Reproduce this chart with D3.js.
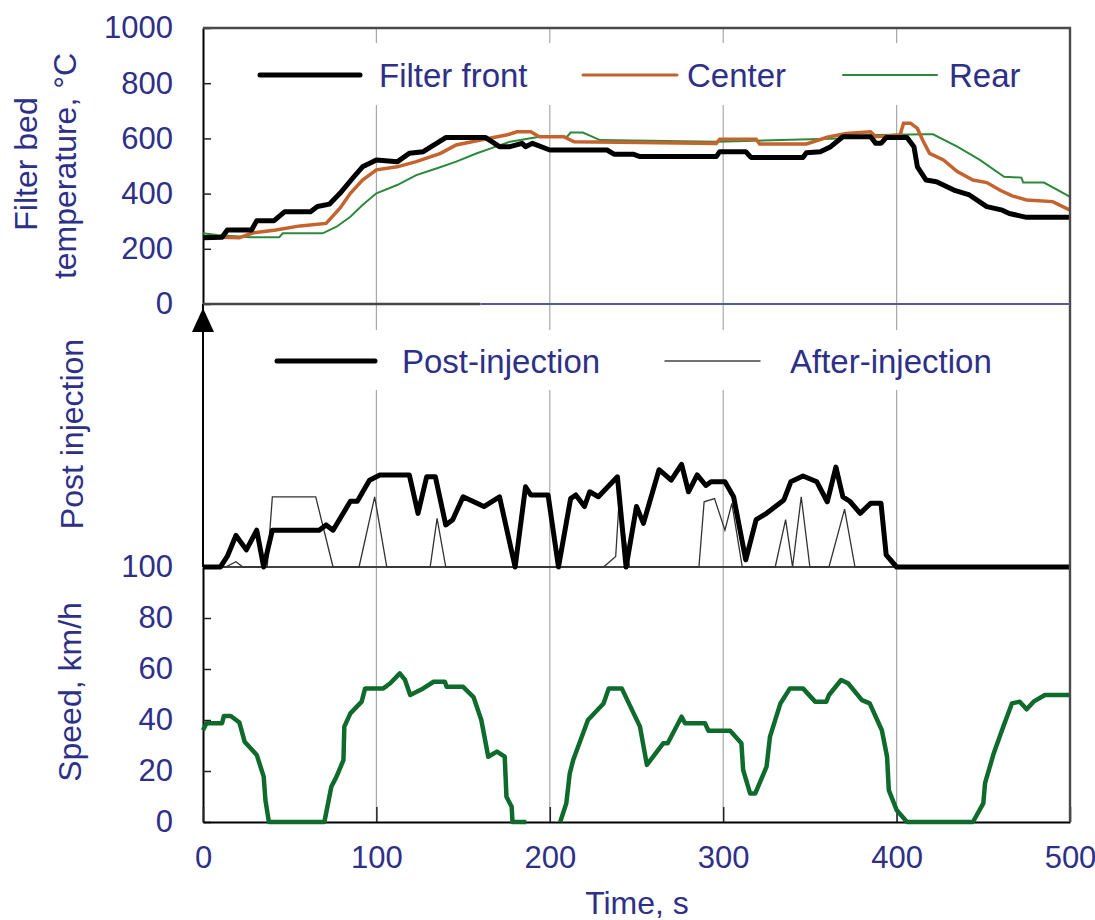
<!DOCTYPE html>
<html>
<head>
<meta charset="utf-8">
<script src="https://cdn.jsdelivr.net/npm/d3@7"></script>
<style>
  body { margin: 0; background: #fff; }
  text { font-family: "Liberation Sans", Arial, sans-serif; fill: #2e3087; }
</style>
</head>
<body>
<div class="vis-holder"></div>
<script>
// tick labels
var timeTicks = [0, 100, 200, 300, 400, 500];
var tempTicks = [0, 200, 400, 600, 800, 1000];
var speedTicks = [0, 20, 40, 60, 80, 100];

// filter bed temperature, front / center / rear  [time s, temp C]
var frontTemp = [[0,240],[11,242],[14,268],[28,268],[31,302],[41,302],[47,334],[62,334],[66,353],[73,362],[79,401],[87,461],[92,497],[100,522],[112,515],[119,546],[127,552],[140,603],[163,603],[171,570],[177,570],[184,582],[186,570],[190,582],[200,558],[233,558],[237,543],[248,543],[252,534],[296,534],[298,552],[313,552],[316,531],[346,531],[348,548],[356,552],[362,570],[369,606],[385,606],[388,582],[391,582],[394,603],[406,603],[410,570],[412,497],[417,449],[423,443],[433,413],[442,395],[452,353],[461,340],[465,328],[475,314],[500,314]];
var centerTemp = [[0,244],[21,240],[29,258],[42,268],[56,283],[71,292],[79,347],[85,401],[92,449],[100,486],[112,497],[123,516],[137,546],[146,576],[160,594],[175,612],[181,624],[189,624],[194,606],[208,606],[214,588],[252,585],[296,582],[298,597],[319,597],[321,580],[348,580],[360,604],[371,618],[385,624],[388,606],[402,612],[404,655],[408,655],[412,636],[415,594],[419,546],[427,522],[435,480],[444,449],[452,440],[460,411],[467,391],[475,377],[490,371],[500,340]];
var rearTemp = [[0,256],[8,250],[27,242],[44,242],[46,256],[69,256],[77,280],[85,316],[92,359],[100,401],[112,431],[123,467],[135,492],[146,516],[158,546],[166,564],[177,588],[194,606],[210,606],[212,621],[219,621],[229,594],[296,588],[367,600],[387,612],[417,615],[421,615],[435,570],[448,522],[462,461],[472,458],[473,440],[485,440],[498,395],[500,388]];

// injection (relative units, baseline 100)
var postInj = [[0,100],[10,100],[14,104],[19,112],[25,106.5],[31,114],[35,100],[40,114],[67,114],[71,116],[75,114],[85,125],[89,125],[96,133],[102,135],[119,135],[124,120.4],[129,134.3],[134,134.3],[140,116],[144,118],[150,126.7],[162,123],[171,126.7],[180,100],[186,130.5],[189,127.4],[199,127.4],[205,100],[212,126],[215,127.4],[220,123],[223,128.6],[228,126.7],[239,134.3],[244,100],[250,123],[254,116.6],[263,137],[270,133],[276,139],[280,128.6],[285,135],[290,131],[293,132.4],[301,132.4],[306,126.7],[313,102.7],[319,118],[325,120.4],[335,125.5],[339,132.4],[346,134.6],[354,132.4],[360,124.8],[365,138],[369,126.7],[373,125],[379,120.4],[385,124.2],[391,124.2],[394,104.6],[400,100],[500,100]];
var afterInj = [[0,100],[13,100],[19,102],[23,100],[37,100],[40,126.7],[65,126.7],[75,100],[90,100],[99,126.7],[106,100],[131,100],[135,118.5],[140,100],[231,100],[238,104],[240,125.5],[246,100],[286,100],[289,124.8],[295,126],[301,114],[305,124.2],[311,100],[330,100],[336,118],[340,100],[345,126.7],[350,100],[361,100],[370,122],[376,100],[500,100]];

// vehicle speed [time s, km/h], null = no trace
var speed = [[0,36],[2,38.7],[11,38.7],[12,41.6],[16,41.6],[21,39],[24,31.5],[31,26.3],[35,17.8],[36,8.6],[38,0],[70,0],[74,13.8],[77,17.8],[81,24.3],[81.5,37.4],[85,42.6],[91.5,47.2],[93.5,52.4],[104,52.4],[108,54.4],[113.5,58.3],[116.5,55.7],[119.5,49.8],[127,52.4],[133,55],[139.5,55],[140.5,53],[150,53],[156,49],[160.5,40],[164.5,25.6],[169.5,27.6],[174,25.6],[175,9.9],[178,6],[178.5,0],[186.5,0],[196,null],[206,0],[209.5,7.3],[211.5,19],[213.5,24.3],[222,40],[231,46.5],[234,52.4],[241.5,52.4],[252,37.4],[256,22.4],[265.5,30.9],[268,30.9],[276,41.3],[278,38.7],[289.5,38.7],[291.5,35.8],[304,35.8],[310.5,30.9],[311.5,20.4],[315.5,11.2],[318.5,11.2],[325,21.7],[327,33.5],[333,46.5],[338.5,52.4],[346,52.4],[353,47.2],[359.5,47.2],[361,49.8],[368,55.7],[372,54.4],[380,47.8],[384.5,46.5],[391.5,36],[394.5,25.6],[395.5,12.5],[400,4.7],[406,0],[444,0],[450,7.3],[451,15.2],[456,26.9],[461.5,37.4],[466.5,46.5],[471,47.2],[475,44.2],[479,47.2],[485.5,49.8],[500,49.8]];

var width = 1095;
var height = 920;
var textColor = "#2e3087";

var svg = d3.select(".vis-holder")
      .append("svg")
      .attr("width", width)
      .attr("height", height);

var xScale = d3.scaleLinear().domain([0, 500]).range([203, 1070]);
var yTemp = d3.scaleLinear().domain([0, 1000]).range([304, 28]);
var yPost = d3.scaleLinear().domain([100, 200]).range([567, 304]);
var ySpeed = d3.scaleLinear().domain([0, 100]).range([822, 567]);

var plotLeft = xScale(0), plotRight = xScale(500);
var plotTop = yTemp(1000), plotBottom = ySpeed(0);

// vertical grid
svg.append("g").selectAll("line")
    .data(timeTicks.slice(1, 5))
    .enter().append("line")
    .attr("x1", function(d){ return xScale(d); })
    .attr("x2", function(d){ return xScale(d); })
    .attr("y1", plotTop)
    .attr("y2", plotBottom)
    .attr("stroke", "#a8a8a8")
    .attr("stroke-width", 1.2);

// legend backgrounds cut the grid
svg.append("rect").attr("x", 230).attr("y", 43).attr("width", 820).attr("height", 62).attr("fill", "#fff");
svg.append("rect").attr("x", 230).attr("y", 330).attr("width", 820).attr("height", 60).attr("fill", "#fff");

// baseline of the injection panel
svg.append("path")
    .attr("d", "M" + plotLeft + "," + yPost(100) + "H" + plotRight)
    .attr("fill", "none").attr("stroke", "#444").attr("stroke-width", 2.2);

function styleAxis(g) {
  g.select(".domain").attr("stroke", "#000").attr("stroke-width", 2);
  g.selectAll(".tick line").attr("stroke", "#222").attr("stroke-width", 1.5);
  g.selectAll(".tick text")
    .style("font-family", '"Liberation Sans", Arial, sans-serif')
    .style("font-size", "31px")
    .attr("fill", textColor);
}

var tempAxis = d3.axisLeft(yTemp).tickValues(tempTicks).tickFormat(d3.format("d"))
      .tickSizeInner(-8).tickSizeOuter(0).tickPadding(30);
svg.append("g").attr("class", "y axis")
    .attr("transform", "translate(" + plotLeft + ",0)")
    .call(tempAxis).call(styleAxis);

var speedAxis = d3.axisLeft(ySpeed).tickValues(speedTicks).tickFormat(d3.format("d"))
      .tickSizeInner(-8).tickSizeOuter(0).tickPadding(30);
svg.append("g").attr("class", "y axis")
    .attr("transform", "translate(" + plotLeft + ",0)")
    .call(speedAxis).call(styleAxis);

var xAxis = d3.axisBottom(xScale).tickValues(timeTicks).tickFormat(d3.format("d"))
      .tickSizeInner(-15).tickSizeOuter(0).tickPadding(24);
svg.append("g").attr("class", "x axis")
    .attr("transform", "translate(0," + plotBottom + ")")
    .call(xAxis).call(styleAxis);

// middle axis with arrow
svg.append("line").attr("x1", plotLeft).attr("x2", plotLeft).attr("y1", yPost(100)).attr("y2", yPost(200))
    .attr("stroke", "#000").attr("stroke-width", 2);
svg.append("path")
    .attr("d", "M" + plotLeft + "," + (yPost(200) + 4) + "L" + (plotLeft - 11) + "," + (yPost(200) + 28) + "L" + (plotLeft + 11) + "," + (yPost(200) + 28) + "Z")
    .attr("fill", "#000");

var tempLine = d3.line()
      .x(function(d){ return xScale(d[0]); })
      .y(function(d){ return yTemp(d[1]); });

var postLine = d3.line()
      .x(function(d){ return xScale(d[0]); })
      .y(function(d){ return yPost(d[1]); });

var speedLine = d3.line()
      .defined(function(d){ return d[1] !== null; })
      .x(function(d){ return xScale(d[0]); })
      .y(function(d){ return ySpeed(d[1]); });

svg.append("path").attr("d", tempLine(rearTemp))
    .attr("fill", "none").attr("stroke", "#2b8a3a").attr("stroke-width", 2);
svg.append("path").attr("d", tempLine(centerTemp))
    .attr("fill", "none").attr("stroke", "#c4632e").attr("stroke-width", 3.5);
svg.append("path").attr("d", tempLine(frontTemp))
    .attr("fill", "none").attr("stroke", "#000").attr("stroke-width", 5).attr("stroke-linejoin", "round");

svg.append("path").attr("d", postLine(afterInj))
    .attr("fill", "none").attr("stroke", "#333").attr("stroke-width", 1.3);
svg.append("path").attr("d", postLine(postInj))
    .attr("fill", "none").attr("stroke", "#000").attr("stroke-width", 5).attr("stroke-linejoin", "round");

svg.append("path").attr("d", speedLine(speed))
    .attr("fill", "none").attr("stroke", "#0f6b2c").attr("stroke-width", 4.5).attr("stroke-linejoin", "round");

// frame: top and right border, panel separator
svg.append("path")
    .attr("d", "M" + plotLeft + "," + plotTop + "H" + plotRight + "V" + plotBottom)
    .attr("fill", "none").attr("stroke", "#4a4a4a").attr("stroke-width", 2.4);
svg.append("path")
    .attr("d", "M" + plotLeft + "," + yTemp(0) + "H" + xScale(160))
    .attr("fill", "none").attr("stroke", "#444").attr("stroke-width", 2.4);
svg.append("path")
    .attr("d", "M" + xScale(160) + "," + yTemp(0) + "H" + plotRight)
    .attr("fill", "none").attr("stroke", "#55589a").attr("stroke-width", 2.2);

// legends
var legendTop = [
  {label: "Filter front", x1: 260, x2: 360, tx: 379, color: "#000", w: 5},
  {label: "Center", x1: 583, x2: 677, tx: 687, color: "#c4632e", w: 3},
  {label: "Rear", x1: 843, x2: 937, tx: 949, color: "#2b8a3a", w: 2}
];
var legendMid = [
  {label: "Post-injection", x1: 277, x2: 375, tx: 402, color: "#000", w: 5},
  {label: "After-injection", x1: 665, x2: 760, tx: 790, color: "#444", w: 1.5}
];

function drawLegend(items, y) {
  var g = svg.append("g");
  items.forEach(function(d){
    g.append("line").attr("x1", d.x1).attr("x2", d.x2).attr("y1", y).attr("y2", y)
      .attr("stroke", d.color).attr("stroke-width", d.w).attr("stroke-linecap", "round");
    g.append("text").attr("x", d.tx).attr("y", y + 11.5)
      .style("font-size", "33px").text(d.label);
  });
}
drawLegend(legendTop, 75);
drawLegend(legendMid, 361);

// axis titles
function yTitle(txt, x, y) {
  svg.append("text")
    .attr("transform", "translate(" + x + "," + y + ") rotate(-90)")
    .style("text-anchor", "middle")
    .style("font-size", "32px")
    .text(txt);
}
yTitle("Filter bed", 37, 164);
yTitle("temperature, °C", 76, 166);
yTitle("Post injection", 83, 434);
yTitle("Speed, km/h", 81, 692);

svg.append("text")
    .attr("x", 637)
    .attr("y", 914)
    .style("text-anchor", "middle")
    .style("font-size", "32px")
    .text("Time, s");
</script>
</body>
</html>
